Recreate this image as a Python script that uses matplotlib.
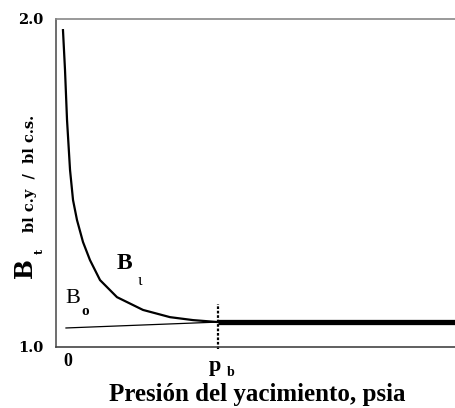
import matplotlib.pyplot as plt
import numpy as np

# Bt curve, pressure in psia, pb = 2000
p_bt = [-67, -40, -13, 27, 67, 120, 200, 293, 427, 653, 1000, 1360, 1667, 2000]
bt = [1.966, 1.845, 1.692, 1.540, 1.448, 1.387, 1.320, 1.265, 1.204, 1.152,
      1.113, 1.091, 1.082, 1.076]
# above pb Bt = Bo, single thick line
p_sat = [2000, 5200]
b_sat = [1.076, 1.076]
# Bo line below pb
p_bo = [-27, 2000]
bo = [1.058, 1.076]
p_b = 2000
y_ticks = [1.0, 2.0]
y_tick_labels = ["1.0", "2.0"]

SERIF = "Liberation Serif"
SERIF2 = "DejaVu Serif"

fig = plt.figure(figsize=(4.56, 4.08), dpi=100)
ax = fig.add_axes([56 / 456, 1 - 347 / 408, 1 - 56 / 456, (347 - 19) / 408])

ax.plot(p_bt, bt, color="black", lw=1.6, solid_joinstyle="round")
ax.plot(p_sat, b_sat, color="black", lw=3.8, solid_capstyle="butt")
ax.plot(p_bo, bo, color="black", lw=0.9)
ax.plot([p_b, p_b], [0.995, 1.13], color="black", lw=1.6, ls=(0, (1.2, 0.8)),
        clip_on=False)

ax.set_xlim(-160, 5173)
ax.set_ylim(1.0, 2.0)
ax.set_xticks([0])
ax.set_xticklabels(["0"])
ax.set_yticks(y_ticks)
ax.set_yticklabels(y_tick_labels)
ax.tick_params(axis="y", length=0, pad=9)
ax.tick_params(axis="x", length=0, pad=4.5)
for lab in ax.get_yticklabels():
    lab.set_fontfamily(SERIF2)
    lab.set_fontweight("bold")
    lab.set_fontsize(10.5)
for lab in ax.get_xticklabels():
    lab.set_fontfamily(SERIF)
    lab.set_fontweight("bold")
    lab.set_fontsize(13)
ax.spines["right"].set_visible(False)
ax.spines["top"].set_color("#888888")
ax.spines["left"].set_color("#555555")
ax.spines["bottom"].set_color("#444444")
for s in ["left", "top", "bottom"]:
    ax.spines[s].set_linewidth(1.2)

# p_b label
fig.text(215 / 456, 1 - 366 / 408, "p", fontfamily=SERIF, fontweight="bold",
         fontsize=16, ha="center", va="center")
fig.text(231 / 456, 1 - 373 / 408, "b", fontfamily=SERIF, fontweight="bold",
         fontsize=10, ha="center", va="center")

# x label
fig.text(257 / 456, 1 - 394 / 408, "Presión del yacimiento, psia", fontfamily=SERIF,
         fontweight="bold", fontsize=18, ha="center", va="center")

# y label pieces (rotated)
fig.text(25 / 456, 1 - 268 / 408, "B", fontfamily=SERIF2, fontweight="bold",
         fontsize=17, rotation=90, ha="center", va="center")
fig.text(39 / 456, 1 - 251 / 408, "t", fontfamily=SERIF2, fontweight="bold",
         fontsize=8, rotation=90, ha="center", va="center")
fig.text(30 / 456, 1 - 173 / 408, "bl c.y  /  bl c.s.", fontfamily=SERIF2,
         fontweight="bold", fontsize=10.5, rotation=90, ha="center", va="center")

# curve labels
ax.text(747, 1.256, "B", fontfamily=SERIF, fontweight="bold", fontsize=17,
        ha="center", va="center")
ax.text(960, 1.201, "ι", fontfamily=SERIF, fontsize=12, ha="center", va="center")
ax.text(67, 1.149, "B", fontfamily=SERIF, fontsize=16, ha="center", va="center")
ax.text(227, 1.107, "o", fontfamily=SERIF, fontweight="bold", fontsize=11,
        ha="center", va="center")

fig.savefig("out.png", dpi=100)
